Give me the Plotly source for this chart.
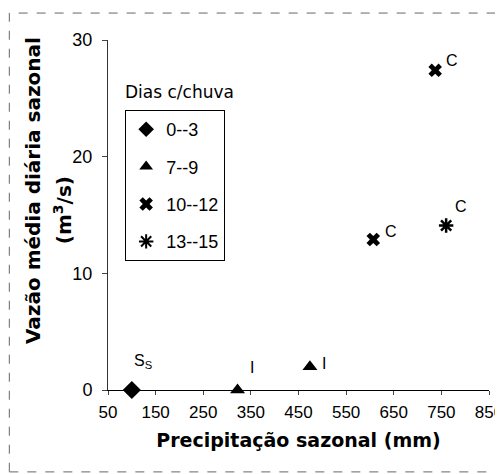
import plotly.graph_objects as go

# ---- data ----
dias_groups = ["0--3", "7--9", "10--12", "13--15"]
precip_0_3 = [100]
vazao_0_3 = [0]
precip_7_9 = [322, 474]
vazao_7_9 = [0, 2.0]
precip_10_12 = [607, 737]
vazao_10_12 = [12.9, 27.4]
precip_13_15 = [760]
vazao_13_15 = [14.1]
labels_0_3 = ["S<sub>S</sub>"]
labels_7_9 = ["I", "I"]
labels_10_12 = ["C", "C"]
labels_13_15 = ["C"]
x_ticks = [50, 150, 250, 350, 450, 550, 650, 750, 850]
y_ticks = [0, 10, 20, 30]

# ---- styles ----
FONT = "Liberation Sans"
BFONT = "DejaVu Sans"
symbols = ["diamond", "triangle-up", "x", "asterisk"]
sizes = [14, 13, 12, 12]
label_shifts = [[(11, 29)], [(14, 23), (14, 3)], [(18, 8), (17, 10)], [(15, 19)]]

series = [
    (precip_0_3, vazao_0_3, labels_0_3),
    (precip_7_9, vazao_7_9, labels_7_9),
    (precip_10_12, vazao_10_12, labels_10_12),
    (precip_13_15, vazao_13_15, labels_13_15),
]

fig = go.Figure()
annotations = []
for i, (xs, ys, labs) in enumerate(series):
    marker = dict(symbol=symbols[i], size=sizes[i], color="black",
                  line=dict(color="black", width=2.5 if symbols[i] == "asterisk" else 0))
    fig.add_trace(go.Scatter(x=xs, y=ys, mode="markers", name=dias_groups[i],
                             marker=marker, cliponaxis=False,
                             legendgroup=dias_groups[i]))
    for (x, y, t), (dx, dy) in zip(zip(xs, ys, labs), label_shifts[i]):
        annotations.append(dict(x=x, y=y, xref="x", yref="y", text=t, showarrow=False,
                                xshift=dx, yshift=dy,
                                font=dict(family=FONT, size=16, color="black")))

# legend title (outside the box)
annotations.append(dict(x=0.04, y=0.852, xref="paper", yref="paper", xanchor="left",
                        yanchor="middle", text="Dias c/chuva", showarrow=False,
                        font=dict(family=BFONT, size=17, color="black")))
# y axis title (two lines)
annotations.append(dict(x=-0.197, y=0.571, xref="paper", yref="paper",
                        text="<b>Vazão média diária sazonal</b>", textangle=-90,
                        showarrow=False, xanchor="center", yanchor="middle",
                        font=dict(family=BFONT, size=20, color="black")))
annotations.append(dict(x=-0.118, y=0.514, xref="paper", yref="paper",
                        text="<b>(m<sup>3</sup>/s)</b>", textangle=-90,
                        showarrow=False, xanchor="center", yanchor="middle",
                        font=dict(family=BFONT, size=20, color="black")))

# the page body adds an 8px offset, so the figure is sized to fit the window
fig.update_layout(
    width=495, height=466,
    margin=dict(l=100, r=14, t=32, b=84),
    paper_bgcolor="white", plot_bgcolor="white",
    font=dict(family=FONT, size=18, color="black"),
    showlegend=True,
    legend=dict(x=0.045, y=0.8, xanchor="left", yanchor="top",
                bordercolor="black", borderwidth=1, bgcolor="white",
                font=dict(family=FONT, size=18, color="black"),
                traceorder="grouped", tracegroupgap=11, itemsizing="constant"),
    annotations=annotations,
    shapes=[dict(type="rect", xref="paper", yref="paper", x0=-0.259, x1=1.029,
                 y0=-0.234, y1=1.077, line=dict(color="#666", width=1, dash="dash"))],
    xaxis=dict(range=[50, 850], tickvals=x_ticks, ticks="outside", ticklen=4,
               showline=True, linecolor="black", linewidth=1, showgrid=False,
               zeroline=False, tickfont=dict(family=FONT, size=17),
               ticklabelstandoff=3, ticklabeloverflow="allow", automargin=False,
               title=dict(text="<b>Precipitação sazonal (mm)</b>",
                          font=dict(family=BFONT, size=19), standoff=12)),
    yaxis=dict(range=[0, 30], tickvals=y_ticks, ticks="outside", ticklen=5,
               showline=True, linecolor="#333", linewidth=1, showgrid=False,
               zeroline=False, tickfont=dict(family=FONT, size=18),
               ticklabelstandoff=6, automargin=False),
)

fig.write_html("out.html")
